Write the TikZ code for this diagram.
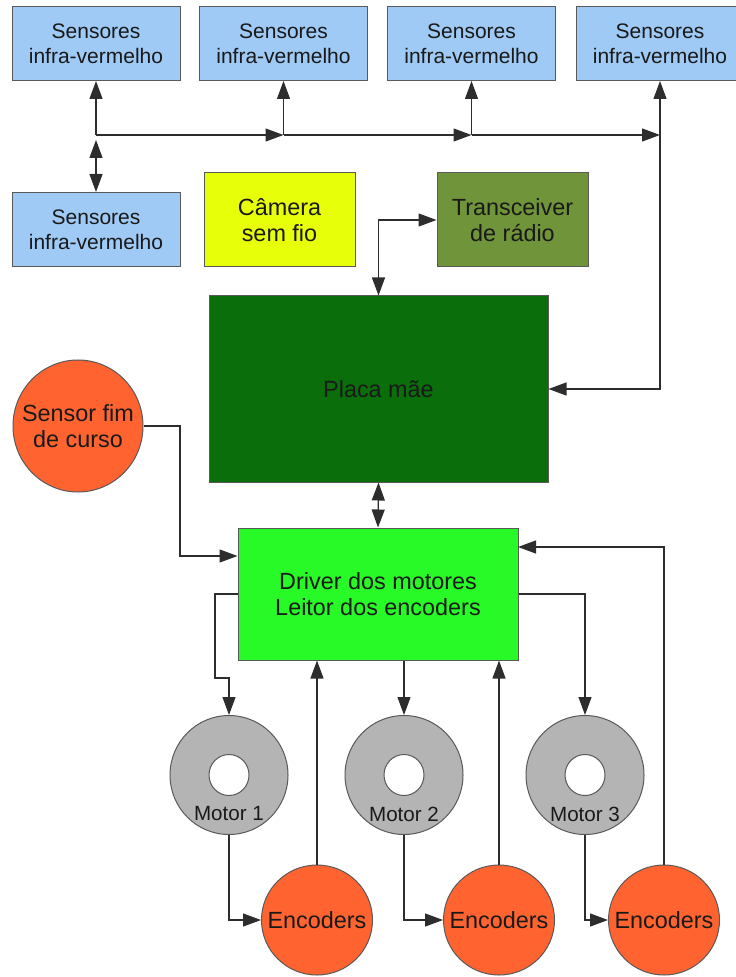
\documentclass[tikz,border=0pt]{standalone}
\usepackage{fontspec}
\setmainfont{Liberation Sans}
\usetikzlibrary{shapes.geometric,arrows.meta}
\definecolor{irblue}{RGB}{158,202,245}
\definecolor{camyellow}{RGB}{232,255,10}
\definecolor{radiogreen}{RGB}{112,148,58}
\definecolor{boardgreen}{RGB}{10,110,10}
\definecolor{drivergreen}{RGB}{40,250,40}
\definecolor{encorange}{RGB}{255,100,48}
\definecolor{motorgray}{RGB}{180,180,180}
\definecolor{wire}{RGB}{45,45,45}
\tikzset{
  blk/.style={draw=black!65, line width=0.5pt, align=center, inner sep=0pt, text=black!90},
  irbox/.style={blk, fill=irblue, minimum width=84pt, minimum height=37pt,
    font=\fontsize{10.5}{12.5}\selectfont},
  bigbox/.style={blk, font=\fontsize{11.7}{13}\selectfont},
  bigtext/.style={align=center, inner sep=0pt, text=black!90, font=\fontsize{11.7}{13}\selectfont},
  motor/.style={blk, ellipse, fill=motorgray, minimum width=59pt, minimum height=59.5pt},
  hole/.style={blk, ellipse, fill=white, minimum width=20pt, minimum height=20.5pt},
  enc/.style={blk, ellipse, fill=encorange, minimum width=55.5pt, minimum height=55pt},
  wireline/.style={draw=wire, line width=0.6pt},
}
\begin{document}
\begin{tikzpicture}[x=0.5pt, y=-0.5pt, >={Triangle[length=9pt,width=6.5pt]}]
\useasboundingbox (0,0) rectangle (735,977);
% sensores
\node[irbox] (s1) at (96,43.5) {Sensores\\infra-vermelho};
\node[irbox] (s2) at (283.5,43.5) {Sensores\\infra-vermelho};
\node[irbox] (s3) at (471.5,43.5) {Sensores\\infra-vermelho};
\node[irbox] (s4) at (660,43.5) {Sensores\\infra-vermelho};
\node[irbox] (s5) at (96,229.5) {Sensores\\infra-vermelho};
% blocos
\node[bigbox, fill=camyellow, minimum width=75.5pt, minimum height=47pt] (cam) at (279.5,220) {Câmera\\sem fio};
\node[bigbox, fill=radiogreen, minimum width=75.5pt, minimum height=47pt] (radio) at (512.5,220) {Transceiver\\de rádio};
\node[bigbox, fill=boardgreen, minimum width=169.5pt, minimum height=93pt] (placa) at (378.5,389) {Placa mãe};
\node[blk, ellipse, fill=encorange, minimum width=65pt, minimum height=66pt] (fim) at (78,426) {};
\node[bigtext] (fimtext) at (fim) {Sensor fim\\de curso};
\node[bigbox, fill=drivergreen, minimum width=140pt, minimum height=66pt] (driver) at (378,594) {Driver dos motores\\Leitor dos encoders};
% motores e encoders
\foreach \n/\x in {1/229,2/404,3/585} {
  \node[motor] (m\n) at (\x,775) {};
  \node[hole] (h\n) at (m\n) {};
  \node[font=\fontsize{10.3}{12}\selectfont, text=black!90] (t\n) at (\x,814) {Motor \n};
}
\foreach \n/\x in {1/317,2/499,3/664} {
  \node[enc] (e\n) at (\x,920) {};
  \node[bigtext] (et\n) at (e\n) {Encoders};
}
% barramento dos sensores
\coordinate (bus0) at (96,135);
\draw[wireline,<-] (s1.south) -- (bus0);
\draw[wireline,->] (bus0) -- (bus0 -| s2.south);
\draw[wireline,->] (bus0 -| s2.south) -- (bus0 -| s3.south);
\draw[wireline,->] (bus0 -| s3.south) -- (bus0 -| s4.south);
\draw[wireline,->] (bus0 -| s2.south) -- (s2.south);
\draw[wireline,->] (bus0 -| s3.south) -- (s3.south);
\draw[wireline,<->] ([yshift=-2.5pt]bus0) -- (s5.north);
\draw[wireline,<->] (s4.south) |- (placa.east);
\draw[wireline,<->] (radio.west) -| (placa.north);
\draw[wireline,<->] (placa.south) -- (driver.north);
% fim de curso
\coordinate (fimbend) at (180,556);
\draw[wireline,->] (fim.east) -| (fimbend) -- (fimbend -| driver.west);
% motores
\draw[wireline,->] (driver.west) -| (215,678) -| (m1.north);
\draw[wireline,->] (driver.south -| m2.north) -- (m2.north);
\draw[wireline,->] (driver.east) -| (m3.north);
\foreach \n in {1,2,3}
  \draw[wireline,->] (m\n.south) |- (e\n.west);
% encoders
\coordinate (in3) at (518,547);
\draw[wireline,->] (e1.north) -- (e1.north |- driver.south);
\draw[wireline,->] (e2.north) -- (e2.north |- driver.south);
\draw[wireline,->] (e3.north) |- (in3);
\end{tikzpicture}
\end{document}
